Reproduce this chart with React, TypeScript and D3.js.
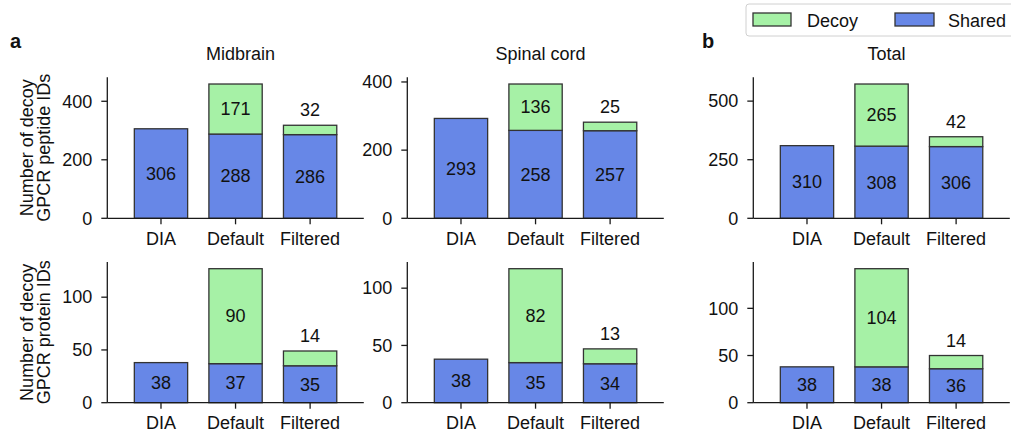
import React from "react";
import * as d3 from "d3";

const categories = ["DIA", "Default", "Filtered"];
const panelTitles = ["Midbrain", "Spinal cord", "Total"];

const peptideShared = [
  [306, 288, 286],
  [293, 258, 257],
  [310, 308, 306],
];
const peptideDecoy = [
  [0, 171, 32],
  [0, 136, 25],
  [0, 265, 42],
];
const proteinShared = [
  [38, 37, 35],
  [38, 35, 34],
  [38, 38, 36],
];
const proteinDecoy = [
  [0, 90, 14],
  [0, 82, 13],
  [0, 104, 14],
];
const peptideTicks = [
  [0, 200, 400],
  [0, 200, 400],
  [0, 250, 500],
];
const proteinTicks = [
  [0, 50, 100],
  [0, 50, 100],
  [0, 50, 100],
];

const GREEN = "#a6f1a6";
const BLUE = "#6787e7";
const EDGE = "#333333";
const AX = "#1a1a1a";
const FONT = "'Liberation Sans', Arial, Helvetica, sans-serif";
const FS = 18;

const colLefts = [107.3, 407.3, 753.3];
const axW = 256.5;
const rows = [
  { top: 77.3, bottom: 218.3 },
  { top: 262, bottom: 402.7 },
];

function Panel({ left, top, bottom, shared, decoy, ticks }) {
  const totals = shared.map((s, i) => s + decoy[i]);
  const maxV = d3.max(totals) as number;
  const y = d3.scaleLinear().domain([0, maxV * 1.05]).range([bottom, top]);
  const x = d3.scaleLinear().domain([-0.72, 2.72]).range([left, left + axW]);
  const bw = x(0.715) - x(0);
  return (
    <g>
      {categories.map((c, i) => {
        const cx = x(i);
        const sTop = y(shared[i]);
        const dTop = y(totals[i]);
        const dh = sTop - dTop;
        return (
          <g key={c}>
            <rect x={cx - bw / 2} y={sTop} width={bw} height={bottom - sTop} fill={BLUE} stroke={EDGE} strokeWidth={1.3} />
            {decoy[i] > 0 && (
              <rect x={cx - bw / 2} y={dTop} width={bw} height={dh} fill={GREEN} stroke={EDGE} strokeWidth={1.3} />
            )}
            <text x={cx} y={(sTop + bottom) / 2} dy="0.35em" textAnchor="middle" fontSize={FS} fill="#111">
              {shared[i]}
            </text>
            {decoy[i] > 0 && (
              dh > 30 ? (
                <text x={cx} y={(sTop + dTop) / 2} dy="0.35em" textAnchor="middle" fontSize={FS} fill="#111">
                  {decoy[i]}
                </text>
              ) : (
                <text x={cx} y={dTop - 9} textAnchor="middle" fontSize={FS} fill="#111">
                  {decoy[i]}
                </text>
              )
            )}
          </g>
        );
      })}
      <line x1={left} x2={left} y1={top} y2={bottom} stroke={AX} strokeWidth={1.3} />
      <line x1={left} x2={left + axW} y1={bottom} y2={bottom} stroke={AX} strokeWidth={1.3} />
      {ticks.map((t) => (
        <g key={t}>
          <line x1={left - 6} x2={left} y1={y(t)} y2={y(t)} stroke={AX} strokeWidth={1.3} />
          <text x={left - 15} y={y(t)} dy="0.35em" textAnchor="end" fontSize={FS} fill="#111">
            {t}
          </text>
        </g>
      ))}
      {categories.map((c, i) => (
        <g key={c}>
          <line x1={x(i)} x2={x(i)} y1={bottom} y2={bottom + 6} stroke={AX} strokeWidth={1.3} />
          <text x={x(i)} y={bottom + 26.3} textAnchor="middle" fontSize={FS} fill="#111">
            {c}
          </text>
        </g>
      ))}
    </g>
  );
}

export default function App() {
  const rowData = [
    { shared: peptideShared, decoy: peptideDecoy, ticks: peptideTicks, label: ["Number of decoy", "GPCR peptide IDs"] },
    { shared: proteinShared, decoy: proteinDecoy, ticks: proteinTicks, label: ["Number of decoy", "GPCR protein IDs"] },
  ];
  return (
    <svg width={1011} height={435} style={{ position: "absolute", left: 0, top: 0, fontFamily: FONT }}>
      <rect x={0} y={0} width={1011} height={435} fill="#fff" />
      {rowData.map((r, ri) => (
        <g key={ri}>
          {colLefts.map((l, ci) => (
            <Panel
              key={ci}
              left={l}
              top={rows[ri].top}
              bottom={rows[ri].bottom}
              shared={r.shared[ci]}
              decoy={r.decoy[ci]}
              ticks={r.ticks[ci]}
            />
          ))}
          <text
            transform={`translate(33,${(rows[ri].top + rows[ri].bottom) / 2}) rotate(-90)`}
            textAnchor="middle"
            fontSize={FS}
            fill="#111"
          >
            {r.label[0]}
          </text>
          <text
            transform={`translate(50,${(rows[ri].top + rows[ri].bottom) / 2}) rotate(-90)`}
            textAnchor="middle"
            fontSize={FS}
            fill="#111"
          >
            {r.label[1]}
          </text>
        </g>
      ))}
      {panelTitles.map((t, ci) => (
        <text key={t} x={colLefts[ci] + axW / 2 + 5} y={60} textAnchor="middle" fontSize={FS} fill="#111">
          {t}
        </text>
      ))}
      <text x={10} y={48} fontSize={20} fontWeight="bold" fill="#111">a</text>
      <text x={702} y={48} fontSize={20} fontWeight="bold" fill="#111">b</text>
      <rect x={746} y={4} width={280} height={32} rx={3} fill="#fff" stroke="#d0d0d0" strokeWidth={1} />
      <rect x={753} y={13} width={38} height={13} fill={GREEN} stroke={EDGE} strokeWidth={1.3} />
      <text x={807} y={26.5} fontSize={FS} fill="#111">Decoy</text>
      <rect x={895} y={13} width={39} height={13} fill={BLUE} stroke={EDGE} strokeWidth={1.3} />
      <text x={948} y={26.5} fontSize={FS} fill="#111">Shared</text>
    </svg>
  );
}
